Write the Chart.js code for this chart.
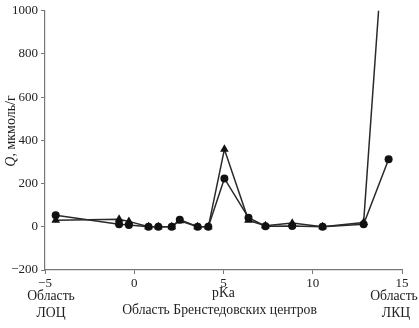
<!DOCTYPE html>
<html>
<head>
<meta charset="utf-8">
<script src="https://cdn.jsdelivr.net/npm/chart.js@4/dist/chart.umd.min.js"></script>
<style>
html,body{margin:0;padding:0;background:#fff;}
#wrap{width:419px;height:328px;position:relative;}
</style>
</head>
<body>
<div id="wrap"><canvas id="c" width="419" height="328"></canvas></div>
<script>
const pKa      = [-4.4, -0.85, -0.3, 0.8, 1.35, 2.1, 2.55, 3.55, 4.15, 5.05, 6.4, 7.35, 8.85, 10.55, 12.85, 14.25];
const circleQ  = [53, 12, 8, 0, 0, 0, 33, 0, 0, 224, 42, 3, 4, 0, 12, 313];
const triangleQ= [30, 35, 25, 0, 0, 0, 28, 0, 0, 359, 30, 5, 17, 0, 20, 1660];
const yTicks = [-200, 0, 200, 400, 600, 800, 1000];
const xTicks = [-5, 0, 5, 10, 15];
const yTitle = ['Q', ', мкмоль/г'];
const xTitle = 'pKa';
const xSubTitle = 'Область Бренстедовских центров';
const leftLabel = ['Область', 'ЛОЦ'];
const rightLabel = ['Область', 'ЛКЦ'];

const FONT = '"Liberation Serif", "Times New Roman", serif';
const fmt = v => (v < 0 ? '\u2212' + Math.abs(v) : String(v));

const toPts = ys => pKa.map((x, i) => ({x: x, y: ys[i]}));

const textPlugin = {
  id: 'texts',
  afterDraw(chart) {
    const ctx = chart.ctx;
    ctx.save();
    ctx.fillStyle = '#222';
    ctx.textBaseline = 'middle';
    ctx.textAlign = 'center';
    ctx.font = '13.7px ' + FONT;
    const ca = chart.chartArea;
    const cx = (ca.left + ca.right) / 2;
    ctx.fillText(xTitle, cx, 293);
    ctx.fillText(xSubTitle, cx - 4, 310);
    ctx.fillText(leftLabel[0], 51, 296);
    ctx.fillText(leftLabel[1], 51, 313);
    ctx.fillText(rightLabel[0], 394, 296);
    ctx.fillText(rightLabel[1], 396, 313);
    // y title rotated
    ctx.translate(11, 131);
    ctx.rotate(-Math.PI / 2);
    ctx.font = 'italic 14px ' + FONT;
    const w1 = ctx.measureText(yTitle[0]).width;
    ctx.font = '14px ' + FONT;
    const w2 = ctx.measureText(yTitle[1]).width;
    const start = -(w1 + w2) / 2;
    ctx.textAlign = 'left';
    ctx.font = 'italic 14px ' + FONT;
    ctx.fillText(yTitle[0], start, 0);
    ctx.font = '14px ' + FONT;
    ctx.fillText(yTitle[1], start + w1, 0);
    ctx.restore();
  }
};

new Chart(document.getElementById('c'), {
  type: 'line',
  data: {
    datasets: [
      {
        label: 'circles',
        data: toPts(circleQ),
        borderColor: '#2a2a2a',
        backgroundColor: '#111',
        borderWidth: 1.5,
        pointStyle: 'circle',
        pointRadius: 4,
        pointBorderWidth: 0,
        tension: 0
      },
      {
        label: 'triangles',
        data: toPts(triangleQ),
        borderColor: '#2a2a2a',
        backgroundColor: '#111',
        borderWidth: 1.5,
        pointStyle: 'triangle',
        pointRadius: 5,
        pointBorderWidth: 0,
        tension: 0
      }
    ]
  },
  options: {
    responsive: false,
    animation: false,
    events: [],
    layout: {padding: {top: 9, right: 17, left: 0, bottom: 0}},
    plugins: {legend: {display: false}, tooltip: {enabled: false}},
    scales: {
      x: {
        type: 'linear',
        min: -5, max: 15,
        afterBuildTicks: s => { s.ticks = xTicks.map(v => ({value: v})); },
        afterFit: s => { s.height = 58; },
        border: {display: true, color: '#777', width: 1.2},
        grid: {display: true, drawOnChartArea: false, drawTicks: true, tickLength: 4, color: '#777'},
        ticks: {
          color: '#222', font: {family: FONT, size: 13}, padding: 2,
          maxRotation: 0, autoSkip: false,
          callback: v => fmt(v)
        }
      },
      y: {
        type: 'linear',
        min: -200, max: 1000,
        afterBuildTicks: s => { s.ticks = yTicks.map(v => ({value: v})); },
        afterFit: s => { s.width = 45; },
        border: {display: true, color: '#777', width: 1.2},
        grid: {display: true, drawOnChartArea: false, drawTicks: true, tickLength: 4, color: '#777'},
        ticks: {
          color: '#222', font: {family: FONT, size: 13}, padding: 3,
          autoSkip: false,
          callback: v => fmt(v)
        }
      }
    }
  },
  plugins: [textPlugin]
});
</script>
</body>
</html>
